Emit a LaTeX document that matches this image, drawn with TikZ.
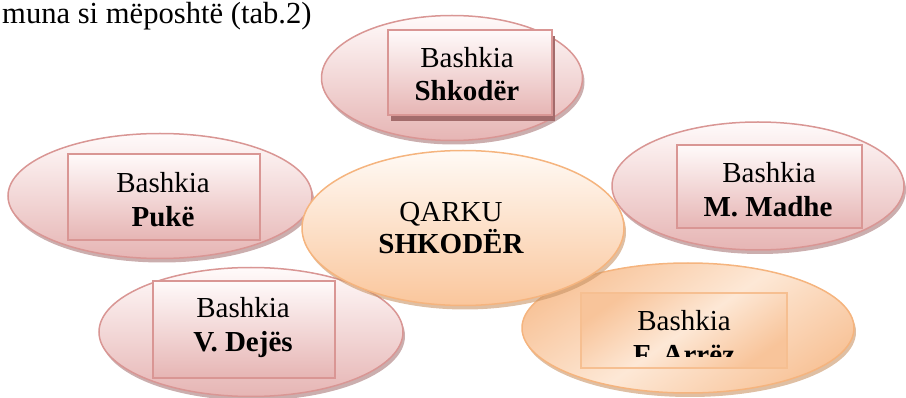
\documentclass[tikz,border=0pt]{standalone}
\usepackage{fontspec}
\setmainfont{Liberation Serif}
\usetikzlibrary{shapes.geometric,shadows}
\definecolor{pinkline}{HTML}{D99694}
\definecolor{pinktop}{HTML}{FFFAFA}
\definecolor{pinkbot}{HTML}{E6B5B4}
\definecolor{pinkshadow}{HTML}{A87878}
\definecolor{rectshadow}{HTML}{A36B6B}
\definecolor{orline}{HTML}{F5B47E}
\definecolor{ortop}{HTML}{FFFAF5}
\definecolor{orbot}{HTML}{FAC69C}
\definecolor{orshadow}{HTML}{C99466}
\definecolor{ormid}{HTML}{FDE8D6}
\definecolor{ordark}{HTML}{F8C49A}
\tikzset{
  sat/.style={ellipse, draw=pinkline, line width=1.5pt, inner sep=0pt,
    top color=pinktop, bottom color=pinkbot,
    drop shadow={shadow xshift=2pt, shadow yshift=-4pt, fill=pinkshadow, opacity=0.6}},
  ctr/.style={ellipse, draw=orline, line width=1.5pt, inner sep=0pt,
    top color=ortop, bottom color=orbot,
    drop shadow={shadow xshift=2pt, shadow yshift=-4pt, fill=orshadow, opacity=0.6}},
  orsat/.style={ellipse, draw=orline, line width=1.5pt, inner sep=0pt,
    shading=axis, top color=ordark, bottom color=ordark, middle color=ormid, shading angle=35,
    drop shadow={shadow xshift=2pt, shadow yshift=-4pt, fill=orshadow, opacity=0.6}},
  srect/.style={rectangle, draw=pinkline, line width=1.5pt, inner sep=0pt,
    top color=pinktop, bottom color=pinkbot},
  orrect/.style={rectangle, draw=orline!85, line width=1.5pt, inner sep=0pt,
    shading=axis, top color=ordark, bottom color=ordark, middle color=ormid, shading angle=35},
  lbl/.style={anchor=base, inner sep=0pt},
}
\begin{document}
\begin{tikzpicture}[x=1pt,y=-1pt,font=\fontsize{29pt}{33pt}\selectfont]
\useasboundingbox (0,0) rectangle (906,398);
% title
\node[anchor=base west, inner sep=0pt, font=\fontsize{30.6pt}{35pt}\selectfont] (title) at (2,24) {muna si mëposhtë (tab.2)};
% Shkoder
\node[sat, minimum width=261pt, minimum height=125pt] (eshk) at (452,78) {};
\node[srect, minimum width=164pt, minimum height=85pt,
  drop shadow={shadow xshift=3pt, shadow yshift=-6pt, fill=rectshadow, opacity=1}] (rshk) at (470,72.5) {};
\node[lbl] (tshk1) at (467,68) {Bashkia};
\node[lbl] (tshk2) at (467,101) {\bfseries Shkodër};
% Puke
\node[sat, minimum width=304pt, minimum height=125pt] (epuk) at (160,196) {};
\node[srect, minimum width=192pt, minimum height=86pt] (rpuk) at (164,197) {};
\node[lbl] (tpuk1) at (163,193) {Bashkia};
\node[lbl] (tpuk2) at (163,227) {\bfseries Pukë};
% M. Madhe
\node[sat, minimum width=292pt, minimum height=128pt] (emad) at (758,186) {};
\node[srect, minimum width=185pt, minimum height=83pt] (rmad) at (769.5,186.5) {};
\node[lbl] (tmad1) at (769,183) {Bashkia};
\node[lbl] (tmad2) at (768,217) {\bfseries M. Madhe};
% V. Dejes
\node[sat, minimum width=304pt, minimum height=129pt] (edej) at (251,332) {};
\node[srect, minimum width=182pt, minimum height=97pt] (rdej) at (244,329.5) {};
\node[lbl] (tdej1) at (243,318) {Bashkia};
\node[lbl] (tdej2) at (243,352) {\bfseries V. Dejës};
% F. Arrez
\node[orsat, minimum width=332pt, minimum height=130pt] (earr) at (688,328) {};
\node[orrect, minimum width=206pt, minimum height=75pt] (rarr) at (684,330.5) {};
\node[lbl] (tarr1) at (684,331) {Bashkia};
\begin{scope}
  \clip (581,293) rectangle (787,357);
  \node[lbl] (tarr2) at (684,365) {\bfseries F. Arrëz};
\end{scope}
% centre
\node[ctr, minimum width=322pt, minimum height=155pt] (ectr) at (463,228) {};
\node[lbl] (tctr1) at (451,222) {QARKU};
\node[lbl] (tctr2) at (451,254) {\bfseries SHKODËR};
\end{tikzpicture}
\end{document}
